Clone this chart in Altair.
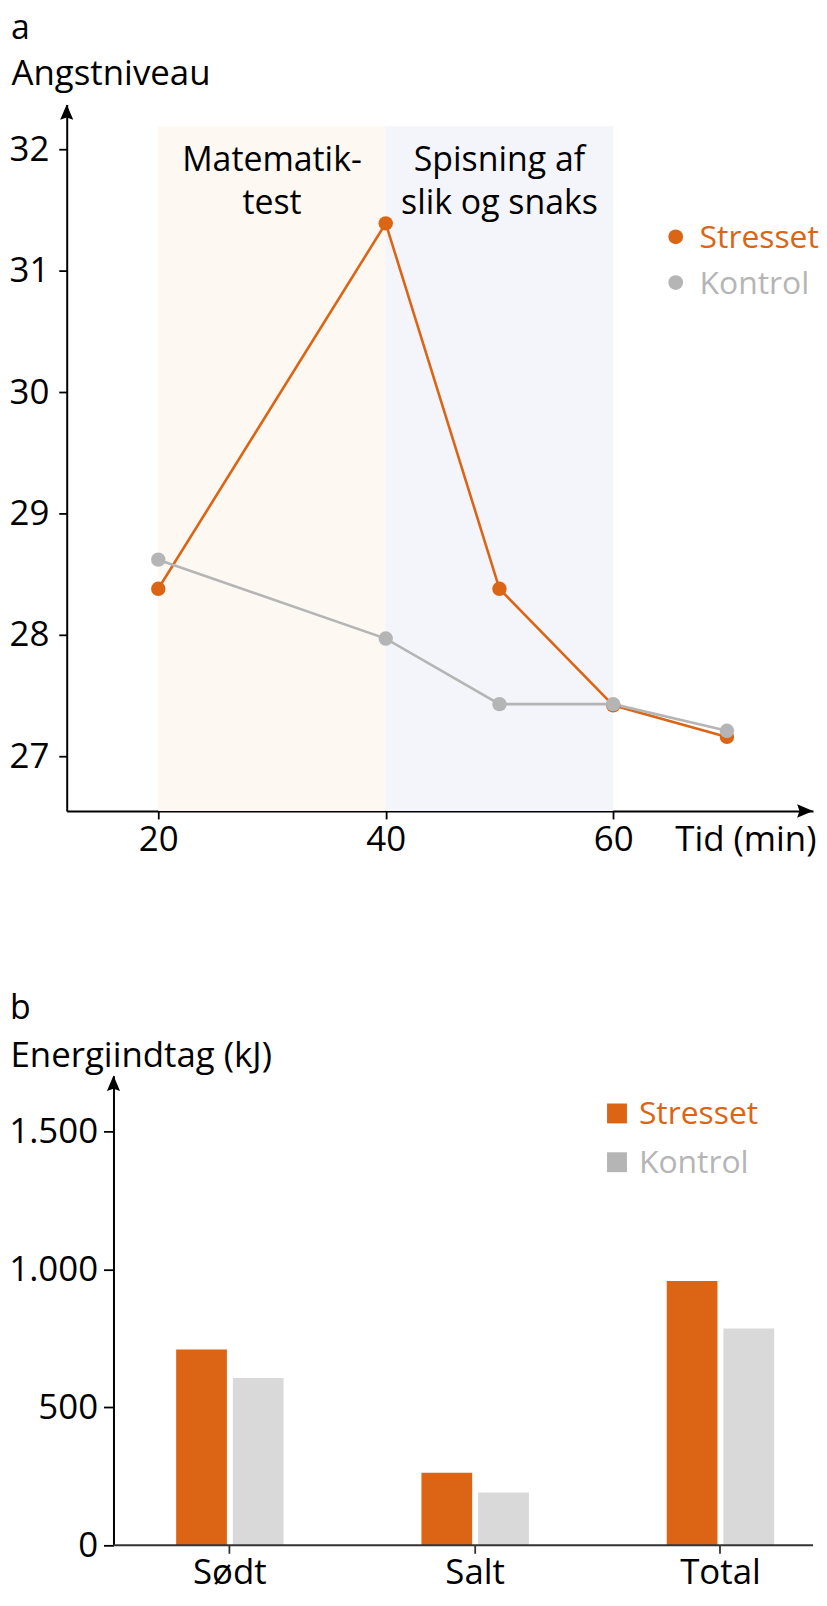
import altair as alt
import pandas as pd

# ---------------- Panel a: Angstniveau over tid ----------------
time_min = [20, 40, 50, 60, 70]
stresset_angst = [28.38, 31.39, 28.38, 27.42, 27.16]
kontrol_angst = [28.62, 27.97, 27.43, 27.43, 27.21]
series = ["Stresset", "Kontrol"]
series_colors = ["#DC6515", "#B5B5B5"]

band_labels = ["Matematik-\ntest", "Spisning af\nslik og snaks"]
band_start = [20, 40]
band_end = [40, 60]
band_top = [32.19, 32.19]
band_colors = ["#FDF8F1", "#F4F5FB"]

y_ticks_a = [27, 28, 29, 30, 31, 32]
x_ticks_a = [20, 40, 60]
x_domain_a = [11.95, 77.57]
y_domain_a = [26.55, 32.37]

# ---------------- Panel b: Energiindtag ----------------
categories = ["Sødt", "Salt", "Total"]
stresset_kj = [710, 263, 958]
kontrol_kj = [606, 191, 786]
bar_colors = ["#DC6515", "#D9D9D9"]
legend_square_colors = ["#DC6515", "#B5B5B5"]
y_ticks_b = [0, 500, 1000, 1500]
y_domain_b = [0, 1702]

FONT = "Open Sans"
FS = 35

W, H_A, H_B = 750, 710, 472
SHIFT_B = 47  # y-axis of panel b sits this far right of panel a's

line_df = pd.DataFrame({
    "tid": time_min * 2,
    "angst": stresset_angst + kontrol_angst,
    "gruppe": [series[0]] * len(time_min) + [series[1]] * len(time_min),
})
band_df = pd.DataFrame({
    "label": band_labels, "start": band_start, "end": band_end,
    "top": band_top, "color": band_colors,
})
legend_df = pd.DataFrame({"gruppe": series, "color": series_colors})
one = pd.DataFrame({"k": [0]})

xs_a = alt.Scale(domain=x_domain_a, nice=False, zero=False)
ys_a = alt.Scale(domain=y_domain_a, nice=False, zero=False)

x_axis_a = alt.Axis(
    values=x_ticks_a, format="d", grid=False, title="Tid (min)",
    titleX=611, titleY=40, titleAlign="left", titleBaseline="alphabetic",
    titleAngle=0, labelPadding=4, tickSize=8,
)
y_axis_a = alt.Axis(
    values=y_ticks_a, format="d", grid=False, title="Angstniveau",
    titleX=-56, titleY=-20, titleAlign="left", titleBaseline="alphabetic",
    titleAngle=0, labelPadding=10, tickSize=8,
)

bands = alt.Chart(band_df).mark_rect().encode(
    x=alt.X("start:Q", scale=xs_a, axis=x_axis_a),
    x2="end:Q",
    y=alt.Y("top:Q", scale=ys_a, axis=y_axis_a),
    y2=alt.datum(y_domain_a[0]),
    fill=alt.Fill("color:N", scale=None),
)
band_text = alt.Chart(band_df).transform_calculate(
    mid="(datum.start + datum.end) / 2"
).mark_text(
    font=FONT, fontSize=34, align="center", baseline="alphabetic",
    lineBreak="\n", lineHeight=43, color="black",
).encode(
    x=alt.X("mid:Q", scale=xs_a),
    y=alt.value(67),
    text="label:N",
)

layers_a = [bands, band_text]
for i, s in enumerate(series):
    sub = alt.Chart(line_df).transform_filter(alt.datum.gruppe == s)
    layers_a.append(
        sub.mark_line(color=series_colors[i], strokeWidth=2.6).encode(
            x=alt.X("tid:Q", scale=xs_a), y=alt.Y("angst:Q", scale=ys_a)
        )
    )
for i, s in enumerate(series):
    sub = alt.Chart(line_df).transform_filter(alt.datum.gruppe == s)
    layers_a.append(
        sub.mark_point(filled=True, opacity=1, size=210, shape="circle",
                       color=series_colors[i]).encode(
            x=alt.X("tid:Q", scale=xs_a), y=alt.Y("angst:Q", scale=ys_a)
        )
    )

# legend a
for i, s in enumerate(series):
    sub = alt.Chart(legend_df).transform_filter(alt.datum.gruppe == s)
    layers_a.append(
        sub.mark_point(filled=True, opacity=1, size=220, shape="circle",
                       color=series_colors[i]).encode(
            x=alt.value(612), y=alt.value(133 + 46 * i)
        )
    )
    layers_a.append(
        sub.mark_text(font=FONT, fontSize=32, align="left", baseline="alphabetic",
                      color=series_colors[i]).encode(
            x=alt.value(636), y=alt.value(144 + 47 * i), text="gruppe:N"
        )
    )

layers_a.append(
    alt.Chart(one).mark_text(text="a", font=FONT, fontSize=34, align="left",
                             baseline="alphabetic", color="black").encode(
        x=alt.value(-56), y=alt.value(-66)
    )
)
layers_a.append(
    alt.Chart(one).mark_point(shape="M0,-1L0.85,1L0,0.7L-0.85,1Z", size=240,
                              filled=True, opacity=1, color="black").encode(
        x=alt.value(0), y=alt.value(7.7)
    )
)
layers_a.append(
    alt.Chart(one).mark_point(shape="M1,0L-1,0.85L-0.7,0L-1,-0.85Z", size=256,
                              filled=True, opacity=1, color="black").encode(
        x=alt.value(W - 8), y=alt.value(H_A)
    )
)

chart_a = alt.layer(*layers_a).properties(width=W, height=H_A)

# ---------------- Panel b chart ----------------
bar_df = pd.DataFrame({
    "kategori": categories * 2,
    "kj": stresset_kj + kontrol_kj,
    "gruppe": [series[0]] * len(categories) + [series[1]] * len(categories),
})

ys_b = alt.Scale(domain=y_domain_b, nice=False, zero=True)
bars = alt.Chart(bar_df).mark_bar().encode(
    x=alt.X("kategori:N", sort=categories,
            scale=alt.Scale(paddingInner=0.562, paddingOuter=0.3023, align=0.738),
            axis=alt.Axis(title=None, labelAngle=0, labelBaseline="alphabetic",
                          labelPadding=30, tickSize=8,
                          domain=False, tickColor="#333333")),
    xOffset=alt.XOffset("gruppe:N", sort=series,
                        scale=alt.Scale(paddingInner=0.105, paddingOuter=0)),
    y=alt.Y("kj:Q", scale=ys_b,
            axis=alt.Axis(values=y_ticks_b, grid=False, title="Energiindtag (kJ)",
                          labelExpr="replace(datum.label, ',', '.')",
                          offset=-SHIFT_B,
                          titleX=-104, titleY=-9, titleAlign="left",
                          titleBaseline="alphabetic", titleAngle=0,
                          labelPadding=6, tickSize=10)),
    color=alt.Color("gruppe:N", scale=alt.Scale(domain=series, range=bar_colors),
                    legend=None),
)

x_domain_line_b = alt.Chart(one).mark_rule(color="#333333", strokeWidth=2).encode(
    x=alt.value(SHIFT_B), x2=alt.value(W), y=alt.value(H_B)
)

layers_b = [bars, x_domain_line_b]
for i, s in enumerate(series):
    sub = alt.Chart(legend_df).transform_filter(alt.datum.gruppe == s)
    layers_b.append(
        sub.mark_square(filled=True, opacity=1, size=400,
                        color=legend_square_colors[i]).encode(
            x=alt.value(553), y=alt.value(38 + 49 * i)
        )
    )
    layers_b.append(
        sub.mark_text(font=FONT, fontSize=32, align="left", baseline="alphabetic",
                      color=legend_square_colors[i]).encode(
            x=alt.value(575), y=alt.value(49 + 49 * i), text="gruppe:N"
        )
    )
layers_b.append(
    alt.Chart(one).mark_text(text="b", font=FONT, fontSize=34, align="left",
                             baseline="alphabetic", color="black").encode(
        x=alt.value(-57), y=alt.value(-57)
    )
)
layers_b.append(
    alt.Chart(one).mark_point(shape="M0,-1L0.85,1L0,0.7L-0.85,1Z", size=240,
                              filled=True, opacity=1, color="black").encode(
        x=alt.value(SHIFT_B), y=alt.value(7.7)
    )
)

chart_b = alt.layer(*layers_b).properties(width=W, height=H_B)

chart = alt.ConcatChart(
    concat=[chart_a, chart_b], columns=1, spacing=135,
).properties(
    padding=0, background="white",
).configure_view(stroke=None).configure_axis(
    labelFont=FONT, titleFont=FONT, labelFontSize=FS, titleFontSize=FS,
    labelColor="black", titleColor="black", titleFontWeight="normal",
    domainColor="black", tickColor="black", domainWidth=2, tickWidth=1.8,
)

chart.save("out.html", embed_options={"renderer": "svg", "actions": False})
